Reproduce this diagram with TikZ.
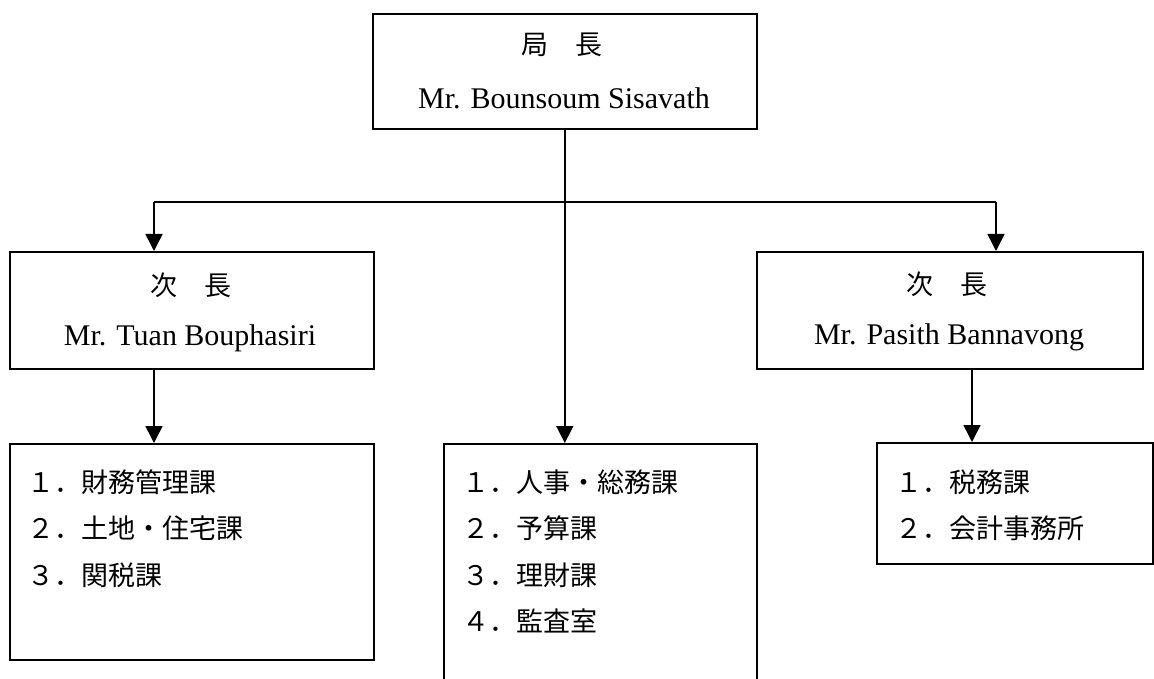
\documentclass[tikz,border=0pt]{standalone}
\usepackage{fontspec}
\setmainfont{Liberation Serif}
\newfontfamily\jp{Noto Sans CJK JP}
\usetikzlibrary{arrows.meta}
\begin{document}
\begin{tikzpicture}[x=1pt,y=-1pt,
  box/.style={draw, line width=1.6pt, anchor=north west, inner sep=0pt},
  conn/.style={line width=1.6pt},
  arr/.style={line width=1.6pt, -{Triangle[width=17pt,length=17pt]}},
  jtxt/.style={font=\jp\fontsize{27}{32}\selectfont, inner sep=0pt},
  ltxt/.style={font=\fontsize{30}{36}\selectfont, inner sep=0pt},
  item/.style={font=\jp\fontsize{27}{32}\selectfont, inner sep=0pt, anchor=base west}]
\useasboundingbox (0,0) rectangle (1154,679);
\clip (0,0) rectangle (1154,679);
% boxes
\node[box, minimum width=384pt, minimum height=115pt] (top) at (372,13) {};
\node[box, minimum width=364pt, minimum height=117pt] (lbox) at (9,251) {};
\node[box, minimum width=386pt, minimum height=117pt] (rbox) at (756,251) {};
\node[box, minimum width=364pt, minimum height=216pt] (lsub) at (9,443) {};
\node[box, minimum width=313pt, minimum height=260pt] (msub) at (443,443) {};
\node[box, minimum width=276pt, minimum height=121pt] (rsub) at (876,442) {};
% texts
\node[jtxt] (t1) at (562,45) {局　長};
\node[ltxt] (t2) at (564,98) {Mr. Bounsoum Sisavath};
\node[jtxt] (l1) at (191,285) {次　長};
\node[ltxt] (l2) at (190,338) {Mr. Tuan Bouphasiri};
\node[jtxt] (r1) at (947,284) {次　長};
\node[ltxt] (r2) at (949,337) {Mr. Pasith Bannavong};
\node[item] (a1) at (27,492) {１．財務管理課};
\node[item] (a2) at (27,538.5) {２．土地・住宅課};
\node[item] (a3) at (27,585) {３．関税課};
\node[item] (b1) at (462,492) {１．人事・総務課};
\node[item] (b2) at (462,538.5) {２．予算課};
\node[item] (b3) at (462,585) {３．理財課};
\node[item] (b4) at (462,631.5) {４．監査室};
\node[item] (c1) at (895,492) {１．税務課};
\node[item] (c2) at (895,538.5) {２．会計事務所};
% connectors
\coordinate (hL) at (154,202);
\coordinate (hR) at (996,202);
\coordinate (rs) at (972,0);
\draw[conn] (hL) -- (hR);
\draw[arr] (top.south) -- (top.south |- msub.north);
\draw[arr] (hL) -- (hL |- lbox.north);
\draw[arr] (hR) -- (hR |- rbox.north);
\draw[arr] (hL |- lbox.south) -- (hL |- lsub.north);
\draw[arr] (rs |- rbox.south) -- (rs |- rsub.north);
\end{tikzpicture}
\end{document}
